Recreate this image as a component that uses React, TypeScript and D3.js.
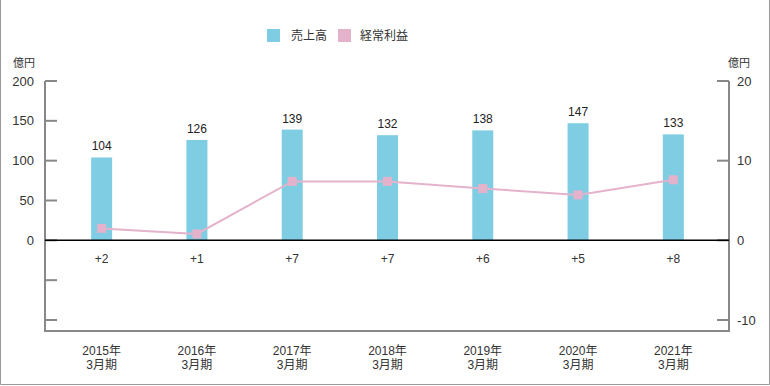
import React from 'react'
import * as d3 from 'd3'

const categories = ['2015年\n3月期', '2016年\n3月期', '2017年\n3月期', '2018年\n3月期', '2019年\n3月期', '2020年\n3月期', '2021年\n3月期']
const sales = [104, 126, 139, 132, 138, 147, 133]
const profit = [1.5, 0.8, 7.4, 7.4, 6.5, 5.7, 7.6]
const profitLabels = ['+2', '+1', '+7', '+7', '+6', '+5', '+8']
const leftTicks = [200, 150, 100, 50, 0, -50, -100]
const leftTickLabels = ['200', '150', '100', '50', '0', '', '']
const rightTicks = [20, 10, 0, -10]

const FONT = '"Liberation Sans", "Noto Sans CJK JP", sans-serif'

function App() {
  const width = 770
  const height = 386
  const left = 45
  const right = 729
  const top = 81
  const bottom = 331

  const x = d3.scalePoint<string>().domain(categories).range([54, 721]).padding(0.5)
  const yL = d3.scaleLinear().domain([-100, 200]).range([320, top])
  const yR = d3.scaleLinear().domain([-10, 20]).range([320, top])
  const barW = 21

  const line = d3
    .line<number>()
    .x((d, i) => x(categories[i]) as number)
    .y(d => yR(d))

  const axisColor = '#888'

  return (
    <div style={{ position: 'absolute', left: 0, top: 0 }}>
      <svg width={width} height={height} style={{ display: 'block' }} fontFamily={FONT}>
        <rect width={width} height={height} fill="#fff" />
        <path d="M0.5,0 V384.5 H769.5 V0" fill="none" stroke="#999" strokeWidth={1} />

        {/* legend */}
        <rect x={267} y={29} width={13} height={13} fill="#7fcde3" />
        <text x={291} y={40} fontSize={12} fill="#333">売上高</text>
        <rect x={338} y={29} width={13} height={13} fill="#e4b2cb" />
        <text x={360} y={40} fontSize={12} fill="#333">経常利益</text>

        <text x={13} y={67} fontSize={11} fill="#333">億円</text>
        <text x={728} y={67} fontSize={11} fill="#333">億円</text>

        {/* bars */}
        {sales.map((v, i) => (
          <g key={i}>
            <rect
              x={(x(categories[i]) as number) - barW / 2}
              y={yL(v)}
              width={barW}
              height={yL(0) - yL(v)}
              fill="#7fcde3"
            />
            <text x={x(categories[i])} y={yL(v) - 7} textAnchor="middle" fontSize={12} fill="#222">
              {v}
            </text>
          </g>
        ))}

        {/* frame */}
        <path
          d={`M${left},${top} V${bottom} H${right} V${top}`}
          fill="none"
          stroke={axisColor}
          strokeWidth={2}
        />
        {leftTicks.map((t, i) => (
          <g key={'l' + i}>
            <line x1={left} x2={57} y1={yL(t)} y2={yL(t)} stroke={axisColor} strokeWidth={2} />
            <text x={34} y={yL(t) + 4.5} textAnchor="end" fontSize={13} fill="#333">
              {leftTickLabels[i]}
            </text>
          </g>
        ))}
        {rightTicks.map((t, i) => (
          <g key={'r' + i}>
            <line x1={717} x2={right} y1={yR(t)} y2={yR(t)} stroke={axisColor} strokeWidth={2} />
            <text x={737} y={yR(t) + 4.5} textAnchor="start" fontSize={13} fill="#333">
              {t}
            </text>
          </g>
        ))}

        <line x1={left} x2={right} y1={yL(0)} y2={yL(0)} stroke="#000" strokeWidth={1.5} />

        {/* profit line */}
        <path d={line(profit) || ''} fill="none" stroke="#e4b2cb" strokeWidth={2} />
        {profit.map((v, i) => (
          <rect
            key={'p' + i}
            x={(x(categories[i]) as number) - 4.5}
            y={yR(v) - 4.5}
            width={9}
            height={9}
            fill="#e4b2cb"
          />
        ))}
        {profitLabels.map((s, i) => (
          <text key={'pl' + i} x={x(categories[i])} y={263} textAnchor="middle" fontSize={12} fill="#333">
            {s}
          </text>
        ))}

        {/* category labels */}
        {categories.map((c, i) => (
          <text key={'c' + i} x={x(c)} y={355} textAnchor="middle" fontSize={12} fill="#333">
            {c.split('\n').map((part, j) => (
              <tspan key={j} x={x(c)} dy={j === 0 ? 0 : 13.5}>
                {part}
              </tspan>
            ))}
          </text>
        ))}
      </svg>
    </div>
  )
}

export default App
